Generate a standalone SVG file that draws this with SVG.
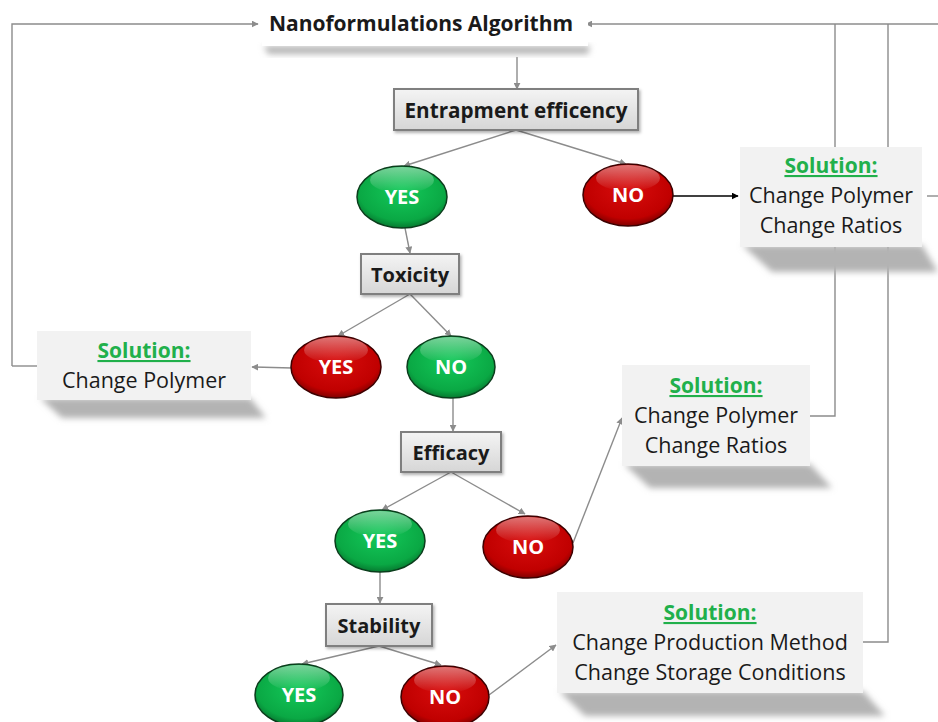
<svg xmlns="http://www.w3.org/2000/svg" width="938" height="722" viewBox="0 0 938 722">
<defs>
<style>
.t{font-family:"Open Sans","Noto Sans","Liberation Sans",sans-serif;}
.box{fill:url(#boxg);stroke:#7f7f7f;stroke-width:2;}
.sol{fill:#f2f2f2;}
.sh{fill:#b3b3b3;filter:url(#blur);}
.h{font-size:20px;font-weight:bold;fill:#1a1a1a;text-anchor:middle;}
.st{font-size:21px;font-weight:bold;fill:#21b04b;text-anchor:middle;text-decoration:underline;}
.tx{font-size:21.5px;fill:#1a1a1a;text-anchor:middle;}
.yn{font-size:20px;font-weight:bold;fill:#ffffff;text-anchor:middle;}
.c{fill:none;stroke:#8c8c8c;stroke-width:1.4;}
.ca{fill:none;stroke:#8c8c8c;stroke-width:1.4;marker-end:url(#ah);}
.g{fill:url(#gg);stroke:#0b3d1c;stroke-width:1.5;}
.r{fill:url(#rg);stroke:#3d0000;stroke-width:1.5;}
.hl{fill:url(#hlg);}
</style>
<marker id="ah" viewBox="0 0 10 10" refX="9" refY="5" markerWidth="7" markerHeight="7" orient="auto" markerUnits="userSpaceOnUse"><path d="M0,0 L10,5 L0,10 z" fill="#8c8c8c"/></marker>
<marker id="ahk" viewBox="0 0 10 10" refX="9" refY="5" markerWidth="7" markerHeight="7" orient="auto" markerUnits="userSpaceOnUse"><path d="M0,0 L10,5 L0,10 z" fill="#000"/></marker>
<linearGradient id="boxg" x1="0" y1="0" x2="0" y2="1"><stop offset="0" stop-color="#f4f4f4"/><stop offset="1" stop-color="#d6d6d6"/></linearGradient>
<radialGradient id="gg" cx="0.5" cy="0.4" r="0.6"><stop offset="0" stop-color="#14c95a"/><stop offset="0.8" stop-color="#0aa844"/><stop offset="1" stop-color="#067a30"/></radialGradient>
<radialGradient id="rg" cx="0.5" cy="0.4" r="0.6"><stop offset="0" stop-color="#d80d0d"/><stop offset="0.8" stop-color="#c00000"/><stop offset="1" stop-color="#800000"/></radialGradient>
<linearGradient id="hlg" x1="0" y1="0" x2="0" y2="1"><stop offset="0" stop-color="#ffffff" stop-opacity="0.45"/><stop offset="1" stop-color="#ffffff" stop-opacity="0"/></linearGradient>
<filter id="blur" x="-10%" y="-50%" width="120%" height="200%"><feGaussianBlur stdDeviation="3"/></filter>
<filter id="bsh" x="-10%" y="-10%" width="130%" height="140%"><feDropShadow dx="1.5" dy="2" stdDeviation="1.5" flood-color="#000" flood-opacity="0.3"/></filter>
</defs>
<rect width="938" height="722" fill="#ffffff"/>

<g id="connectors">
<path class="ca" d="M12,366 L12,24 L258,24"/>
<path class="c" d="M37,366 L12,366"/>
<path class="ca" d="M938,24 L586,24"/>
<path class="c" d="M835,24 L835,147"/>
<path class="c" d="M888,24 L888,147"/>
<path class="c" d="M835,247 L835,416 L810,416"/>
<path class="c" d="M888,247 L888,642 L863,642"/>
<path class="c" d="M927,196 L938,196"/>
<path class="ca" d="M517,57 L517,89"/>
<path class="ca" d="M516,130 L404,166"/>
<path class="ca" d="M516,130 L626,164"/>
<path d="M673,196 L738,196" fill="none" stroke="#000" stroke-width="1.4" marker-end="url(#ahk)"/>
<path class="ca" d="M405,228 L410,253"/>
<path class="ca" d="M410,294 L338,336"/>
<path class="ca" d="M410,294 L451,336"/>
<path class="ca" d="M292,368 L252,367"/>
<path class="ca" d="M453,398 L453,431"/>
<path class="ca" d="M451,472 L382,510"/>
<path class="ca" d="M451,472 L525,514"/>
<path class="ca" d="M573,543 L622,418"/>
<path class="ca" d="M380,572 L380,603"/>
<path class="ca" d="M379,646 L302,664"/>
<path class="ca" d="M379,646 L441,665"/>
<path class="ca" d="M489,695 L556,645"/>
</g>

<g id="title">
<path class="sh" d="M264,46 L590,46 L588,54 L268,54 z"/>
<rect x="262" y="2" width="326" height="44" fill="#ffffff"/>
<text class="t h" x="421" y="31" style="font-size:21px">Nanoformulations Algorithm</text>
</g>

<g id="entrapment">
<rect class="box" x="394" y="89" width="244" height="41" filter="url(#bsh)"/>
<text class="t h" x="516" y="118" style="font-size:20.7px">Entrapment efficency</text>
</g>

<g id="yes1">
<ellipse class="g" cx="402" cy="197" rx="45" ry="31"/>
<ellipse class="hl" cx="402" cy="180" rx="32" ry="13"/>
<text class="t yn" x="402" y="204">YES</text>
</g>
<g id="no1">
<ellipse class="r" cx="628" cy="195" rx="45" ry="31"/>
<ellipse class="hl" cx="628" cy="178" rx="32" ry="13"/>
<text class="t yn" x="628" y="202">NO</text>
</g>

<g id="solution1">
<path class="sh" d="M742,245 L922,245 L938,272 L772,272 z"/>
<rect class="sol" x="740" y="147" width="182" height="100"/>
<text class="t st" x="831" y="173">Solution:</text>
<text class="t tx" x="831" y="203">Change Polymer</text>
<text class="t tx" x="831" y="233">Change Ratios</text>
</g>

<g id="toxicity">
<rect class="box" x="361" y="254" width="98" height="40" filter="url(#bsh)"/>
<text class="t h" x="410" y="282">Toxicity</text>
</g>

<g id="yes2">
<ellipse class="r" cx="336" cy="367" rx="45" ry="31"/>
<ellipse class="hl" cx="336" cy="350" rx="32" ry="13"/>
<text class="t yn" x="336" y="374">YES</text>
</g>
<g id="no2">
<ellipse class="g" cx="451" cy="367" rx="44" ry="31"/>
<ellipse class="hl" cx="451" cy="350" rx="31" ry="13"/>
<text class="t yn" x="451" y="374">NO</text>
</g>

<g id="solution-left">
<path class="sh" d="M40,398 L250,398 L266,418 L62,418 z"/>
<rect class="sol" x="37" y="331" width="214" height="69"/>
<text class="t st" x="144" y="358">Solution:</text>
<text class="t tx" x="144" y="388">Change Polymer</text>
</g>

<g id="efficacy">
<rect class="box" x="401" y="432" width="100" height="40" filter="url(#bsh)"/>
<text class="t h" x="451" y="460">Efficacy</text>
</g>

<g id="yes3">
<ellipse class="g" cx="380" cy="541" rx="45" ry="31"/>
<ellipse class="hl" cx="380" cy="524" rx="32" ry="13"/>
<text class="t yn" x="380" y="548">YES</text>
</g>
<g id="no3">
<ellipse class="r" cx="528" cy="547" rx="45" ry="31"/>
<ellipse class="hl" cx="528" cy="530" rx="32" ry="13"/>
<text class="t yn" x="528" y="554">NO</text>
</g>

<g id="solution2">
<path class="sh" d="M624,464 L810,464 L832,488 L650,488 z"/>
<rect class="sol" x="622" y="365" width="188" height="101"/>
<text class="t st" x="716" y="393">Solution:</text>
<text class="t tx" x="716" y="423">Change Polymer</text>
<text class="t tx" x="716" y="453">Change Ratios</text>
</g>

<g id="stability">
<rect class="box" x="326" y="604" width="106" height="42" filter="url(#bsh)"/>
<text class="t h" x="379" y="633">Stability</text>
</g>

<g id="yes4">
<ellipse class="g" cx="299" cy="695" rx="44" ry="31"/>
<ellipse class="hl" cx="299" cy="678" rx="31" ry="13"/>
<text class="t yn" x="299" y="702">YES</text>
</g>
<g id="no4">
<ellipse class="r" cx="445" cy="697" rx="44" ry="31"/>
<ellipse class="hl" cx="445" cy="680" rx="31" ry="13"/>
<text class="t yn" x="445" y="704">NO</text>
</g>

<g id="solution3">
<path class="sh" d="M559,691 L863,691 L885,716 L585,716 z"/>
<rect class="sol" x="557" y="592" width="306" height="101"/>
<text class="t st" x="710" y="620">Solution:</text>
<text class="t tx" x="710" y="650">Change Production Method</text>
<text class="t tx" x="710" y="680">Change Storage Conditions</text>
</g>
</svg>
